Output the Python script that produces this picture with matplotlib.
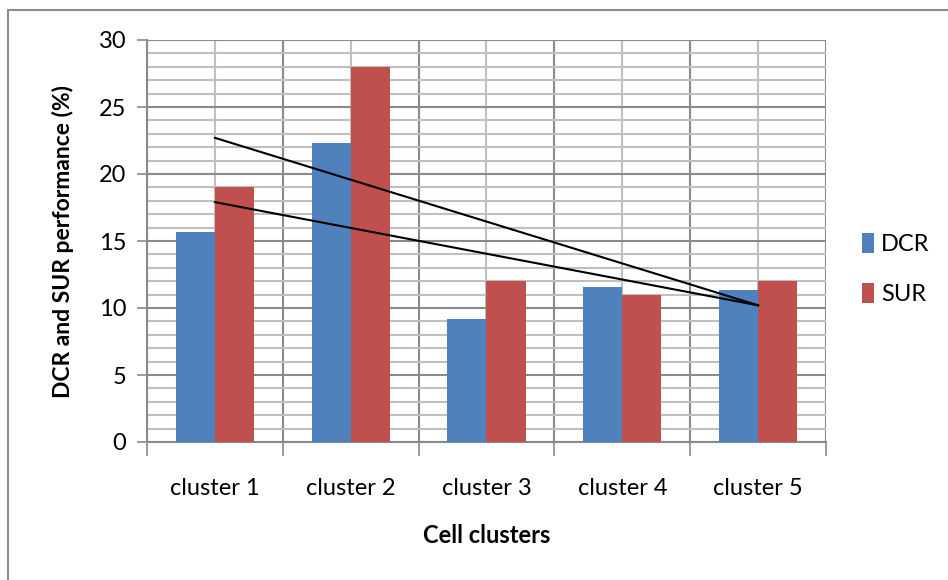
import numpy as np
import matplotlib.pyplot as plt
from matplotlib.patches import Rectangle

clusters = ["cluster 1", "cluster 2", "cluster 3", "cluster 4", "cluster 5"]
dcr = [15.7, 22.3, 9.2, 11.55, 11.35]
sur = [19.0, 28.0, 12.0, 11.0, 12.0]
# the two hand-drawn trend lines (start at cluster 1, end at cluster 5)
line_a = [22.7, 10.2]
line_b = [17.9, 10.2]

plt.rcParams['font.family'] = ['Lato', 'DejaVu Sans']

fig = plt.figure(figsize=(9.48, 5.8), dpi=100)
fig.patches.append(Rectangle((8/948, -0.01), 1.0, 1 - 10/580 + 0.01, transform=fig.transFigure,
                             fill=False, edgecolor='#8c8c8c', linewidth=1.5))
ax = fig.add_axes([147/948, 1 - 442/580, (826 - 147)/948, (442 - 40)/580])

x = np.arange(len(clusters))
w = 0.2875
ax.bar(x - w/2, dcr, w, color='#4F81BD', label='DCR', zorder=3)
ax.bar(x + w/2, sur, w, color='#C0504D', label='SUR', zorder=3)

ax.plot([x[0], x[-1]], line_a, color='black', lw=1.5, zorder=4)
ax.plot([x[0], x[-1]], line_b, color='black', lw=1.5, zorder=4)

ax.set_xlim(-0.5, len(clusters) - 0.5)
ax.set_ylim(0, 30)
ax.set_yticks(np.arange(0, 31, 5))
ax.set_yticks(np.arange(0, 31, 1), minor=True)
ax.set_xticks(x)
ax.set_xticklabels(clusters)
ax.set_xticks(np.arange(-0.5, len(clusters), 1), minor=True)

ax.grid(True, which='major', axis='y', color='#8a8a8a', lw=1.5, zorder=0)
ax.grid(True, which='minor', axis='y', color='#c0c0c0', lw=1.5, zorder=0)
ax.grid(True, which='minor', axis='x', color='#8a8a8a', lw=1.5, zorder=0)
ax.grid(True, which='major', axis='x', color='#c0c0c0', lw=1.5, zorder=0)

ax.tick_params(axis='y', which='major', length=7, width=1.2, color='#8a8a8a', labelsize=17, pad=8)
ax.tick_params(axis='y', which='minor', length=0)
ax.tick_params(axis='x', which='major', length=0, labelsize=17, pad=26)
ax.tick_params(axis='x', which='minor', length=10, width=1.2, color='#8a8a8a')

for s in ['top', 'right']:
    ax.spines[s].set_visible(False)
for s in ['left', 'bottom']:
    ax.spines[s].set_color('#8a8a8a')
    ax.spines[s].set_linewidth(1.5)

ax.set_ylabel('DCR and SUR performance (%)', fontsize=16.5, fontweight='bold', labelpad=18)
ax.set_xlabel('Cell clusters', fontsize=17, fontweight='bold', labelpad=18)

ax.legend(loc='center left', bbox_to_anchor=(1.022, 0.43), frameon=False, fontsize=17,
          handlelength=0.5, handleheight=0.9, handletextpad=0.3, labelspacing=1.2)

fig.savefig('out.png', dpi=100)
